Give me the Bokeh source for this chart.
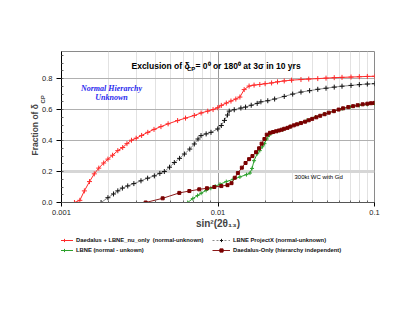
from bokeh.plotting import figure
from bokeh.layouts import column
from bokeh.models import Range1d, FixedTicker, NumeralTickFormatter, Label, Legend, LegendItem, Span, Title
from bokeh.embed import file_html
from bokeh.resources import INLINE

# ---- data ----
x_ticks = [0.001, 0.01, 0.1]
y_ticks = [0.0, 0.2, 0.4, 0.6, 0.8]

red_x = [0.00121, 0.00131, 0.00140, 0.00151, 0.00162, 0.00173, 0.00186, 0.00198, 0.00212, 0.00229,
         0.00246, 0.00262, 0.00280, 0.00300, 0.00325, 0.00356, 0.00390, 0.00432, 0.00480, 0.00552,
         0.00620, 0.00706, 0.00780, 0.00860, 0.00930, 0.00996, 0.0105, 0.0113, 0.0121, 0.0130,
         0.0138, 0.0147, 0.0158, 0.0170, 0.0185, 0.0200, 0.0220, 0.0240, 0.0265, 0.0295,
         0.0339, 0.0380, 0.0434, 0.0490, 0.0553, 0.0620, 0.0708, 0.0800, 0.0900, 0.1000]
red_y = [0.0, 0.014, 0.075, 0.135, 0.185, 0.222, 0.255, 0.28, 0.305, 0.335,
         0.355, 0.38, 0.402, 0.415, 0.433, 0.453, 0.472, 0.49, 0.508, 0.529,
         0.545, 0.562, 0.578, 0.59, 0.600, 0.612, 0.627, 0.642, 0.655, 0.668,
         0.681, 0.729, 0.752, 0.758, 0.762, 0.767, 0.772, 0.779, 0.785, 0.79,
         0.794, 0.797, 0.80, 0.803, 0.806, 0.808, 0.81, 0.812, 0.814, 0.815]

pjx_x = [0.00179, 0.00198, 0.00215, 0.00229, 0.00245, 0.00265, 0.00290, 0.00322, 0.00355, 0.00392,
         0.00425, 0.00454, 0.00490, 0.00526, 0.00568, 0.00610, 0.00660, 0.00706, 0.00745, 0.00779,
         0.00840, 0.00902, 0.00996, 0.0105, 0.0110, 0.0115, 0.0118, 0.0127, 0.0140, 0.0150,
         0.0163, 0.0178, 0.0188, 0.0208, 0.0230, 0.0265, 0.0300, 0.0339, 0.0385, 0.0434,
         0.0490, 0.0553, 0.0620, 0.0708, 0.0800, 0.0900, 0.1000]
pjx_y = [0.0, 0.031, 0.055, 0.075, 0.093, 0.107, 0.122, 0.14, 0.157, 0.172,
         0.188, 0.2, 0.228, 0.258, 0.285, 0.313, 0.345, 0.378, 0.41, 0.432,
         0.443, 0.453, 0.475, 0.497, 0.53, 0.565, 0.59, 0.599, 0.61, 0.616,
         0.628, 0.64, 0.65, 0.657, 0.668, 0.685, 0.700, 0.713, 0.722, 0.731,
         0.738, 0.745, 0.751, 0.756, 0.761, 0.765, 0.767]

lbne_x = [0.0064, 0.0069, 0.0074, 0.0078, 0.0084, 0.0090, 0.0096, 0.0103, 0.0113, 0.0125,
          0.0138, 0.0152, 0.0160, 0.0165, 0.0170, 0.0178, 0.0185, 0.0192, 0.0198, 0.0205,
          0.0213, 0.0222, 0.024, 0.026, 0.029, 0.033, 0.037, 0.042, 0.048, 0.055,
          0.062, 0.070, 0.080, 0.090, 0.100]
lbne_y = [0.0, 0.025, 0.045, 0.06, 0.078, 0.092, 0.105, 0.118, 0.135, 0.15,
          0.165, 0.18, 0.19, 0.22, 0.27, 0.315, 0.335, 0.36, 0.38, 0.41,
          0.435, 0.452, 0.46, 0.47, 0.49, 0.51, 0.53, 0.552, 0.572, 0.59,
          0.605, 0.617, 0.627, 0.633, 0.637]

dae_x = [0.00345, 0.00443, 0.00566, 0.00656, 0.00759, 0.00850, 0.00947, 0.0105, 0.0115, 0.0122,
         0.0128, 0.0134, 0.0142, 0.0150, 0.0158, 0.0166, 0.0175, 0.0183, 0.0190, 0.0198,
         0.0205, 0.0215, 0.0225, 0.0235, 0.0245, 0.0255, 0.0265, 0.0278, 0.029, 0.0305,
         0.032, 0.0339, 0.036, 0.038, 0.040, 0.0425, 0.045, 0.048, 0.051, 0.055,
         0.059, 0.063, 0.068, 0.073, 0.078, 0.084, 0.090, 0.095, 0.100]
dae_y = [0.0, 0.027, 0.062, 0.074, 0.085, 0.092, 0.100, 0.106, 0.112, 0.125,
         0.16, 0.19, 0.225, 0.255, 0.28, 0.30, 0.325, 0.35, 0.38, 0.41,
         0.438, 0.45, 0.455, 0.46, 0.465, 0.47, 0.476, 0.482, 0.49, 0.498,
         0.505, 0.513, 0.522, 0.531, 0.54, 0.55, 0.56, 0.57, 0.58, 0.59,
         0.60, 0.608, 0.616, 0.622, 0.628, 0.634, 0.638, 0.641, 0.643]

labels = ["Daedalus + LBNE_nu_only  (normal-unknown)",
          "LBNE ProjectX (normal-unknown)",
          "LBNE (normal - unkown)",
          "Daedalus-Only (hierarchy independent)"]

FONT = "Liberation Sans"
RED, GRAY, BLACK, GREEN, DRED, DSQ = "#ff2a2a", "#8c8c8c", "#111111", "#2ca02c", "#8b1a1a", "#7a0000"

p = figure(frame_width=313, frame_height=151, x_axis_type="log",
           x_range=Range1d(0.001, 0.1), y_range=Range1d(0, 0.975),
           output_backend="svg", toolbar_location=None,
           min_border_left=61, min_border_right=34, min_border_top=51, min_border_bottom=30)
p.background_fill_color = "white"
p.border_fill_color = "white"
p.outline_line_color = "#8a8a8a"

x_minor = [m * 10.0 ** k for k in (-3, -2) for m in range(2, 10)]
y_minor = [i * 0.05 for i in range(0, 20)]
p.xaxis.ticker = FixedTicker(ticks=x_ticks, minor_ticks=x_minor)
p.yaxis.ticker = FixedTicker(ticks=y_ticks, minor_ticks=y_minor)
p.xaxis.formatter = NumeralTickFormatter(format="0.[000]")
p.yaxis.formatter = NumeralTickFormatter(format="0.0")

for ax in (p.xaxis[0], p.yaxis[0]):
    ax.major_label_text_font = FONT
    ax.major_label_text_font_size = "7.5px"
    ax.major_label_text_color = "#222222"
    ax.minor_tick_in = 2
    ax.minor_tick_out = 0
    ax.major_tick_in = 0
    ax.major_tick_out = 4
    ax.major_label_standoff = 3
p.yaxis.major_tick_out = 5
p.yaxis.major_label_standoff = 4
p.yaxis.axis_line_color = "black"
p.xaxis.axis_line_color = "#555555"
p.xaxis.minor_tick_line_color = "#666666"
p.yaxis.minor_tick_line_color = "#666666"

p.xaxis.axis_label = "sin²(2θ₁₃)"
p.xaxis.axis_label_text_font = FONT
p.xaxis.axis_label_text_font_style = "bold"
p.xaxis.axis_label_text_font_size = "10px"
p.xaxis.axis_label_standoff = 0

p.xgrid.grid_line_color = "#9a9a9a"
p.xgrid.minor_grid_line_color = "#e2e2e2"
p.ygrid.grid_line_color = "#b0b0b0"

p.add_layout(Span(location=0.2, dimension="width", line_color="#d6d6d6", line_width=3, level="underlay"))

# ---- series ----
p.line(pjx_x, pjx_y, line_color=GRAY, line_width=1)
p.scatter(pjx_x, pjx_y, marker="cross", size=5, line_color=BLACK, line_width=1)
p.line(red_x, red_y, line_color=RED, line_width=1)
p.scatter(red_x, red_y, marker="cross", size=5, line_color=RED, line_width=1)
p.line(lbne_x, lbne_y, line_color=GREEN, line_width=1)
p.scatter(lbne_x, lbne_y, marker="cross", size=4, line_color=GREEN, line_width=1)
p.line(dae_x, dae_y, line_color=DRED, line_width=1)
p.scatter(dae_x, dae_y, marker="square", size=3, line_color=DSQ, fill_color=DSQ)

# ---- annotations inside the frame ----
def lab(text, x, y, size, style="bold", align="left", base="alphabetic", color="black", font=FONT):
    p.add_layout(Label(x=x, y=y, x_units="screen", y_units="screen", text=text,
                       text_font=font, text_font_size=size, text_font_style=style,
                       text_align=align, text_baseline=base, text_color=color))

lab("Exclusion of δ", 70, 136.5, "8.5px")
lab("CP", 125.5, 134, "6px")
lab("= 0⁰ or 180⁰ at 3σ in 10 yrs", 134, 136.5, "8.5px")

lab("Normal Hierarchy", 50, 114.5, "8px", style="bold italic", align="center", base="middle",
    color="#2a2aee", font="Liberation Serif")
lab("Unknown", 50, 105.5, "8px", style="bold italic", align="center", base="middle",
    color="#2a2aee", font="Liberation Serif")
lab("300kt WC with Gd", 233, 26, "6px", style="normal", base="middle")

# ---- y axis title (with subscript) in the left panel ----
p.add_layout(Title(text="CP", text_font=FONT, text_font_size="6px", text_font_style="bold",
                   align="left", offset=99, standoff=-12), "left")
p.add_layout(Title(text="Fraction of δ", text_font=FONT, text_font_size="8.5px", text_font_style="bold",
                   align="left", offset=47, standoff=0), "left")

# ---- legend strip below the chart (key glyphs only, drawn outside its visible range) ----
q = figure(width=408, height=30, x_range=Range1d(0, 1), y_range=Range1d(0, 1),
           output_backend="svg", toolbar_location=None,
           x_axis_location=None, y_axis_location=None,
           min_border_left=0, min_border_right=0, min_border_top=0, min_border_bottom=0)
q.grid.visible = False
q.outline_line_color = None
q.background_fill_color = "white"
q.border_fill_color = "white"

off = [-5, -4]
kr = [q.line(off, off, line_color=RED), q.scatter(off, off, marker="cross", size=5, line_color=RED)]
kn = [q.line(off, off, line_color=GREEN), q.scatter(off, off, marker="cross", size=4, line_color=GREEN)]
kg = [q.line(off, off, line_color=GRAY, line_dash="2 2"), q.scatter(off, off, marker="cross", size=5, line_color=BLACK)]
kd = [q.line(off, off, line_color=DRED), q.scatter(off, off, marker="square", size=3, line_color=DSQ, fill_color=DSQ)]

def mk_legend(items, x):
    leg = Legend(items=items, location=(x, 8), orientation="vertical",
                 label_text_font=FONT, label_text_font_size="5.8px", label_text_font_style="bold",
                 label_text_color="#111111",
                 glyph_width=18, glyph_height=8, label_height=8, label_standoff=3, spacing=2,
                 padding=0, margin=0, border_line_color=None, background_fill_alpha=0)
    q.add_layout(leg, "center")

mk_legend([LegendItem(label=labels[0], renderers=kr), LegendItem(label=labels[2], renderers=kn)], -6)
mk_legend([LegendItem(label=labels[1], renderers=kg), LegendItem(label=labels[3], renderers=kd)], 151)

open("out.html", "w").write(file_html(column(p, q, spacing=0), INLINE))
